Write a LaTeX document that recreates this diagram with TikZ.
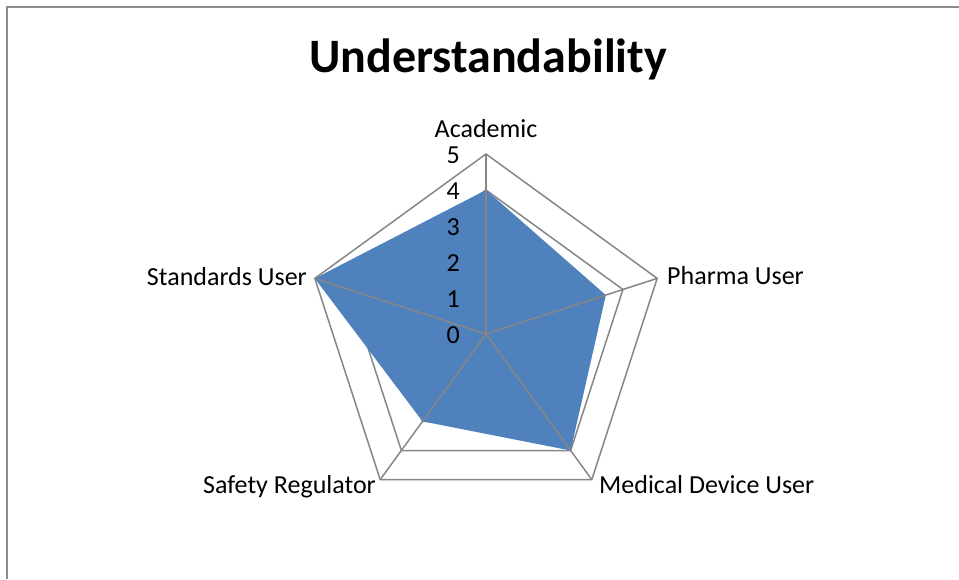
\documentclass[tikz,border=0pt]{standalone}
\usepackage{fontspec}
\setmainfont{Carlito}
\definecolor{gridgray}{HTML}{868686}
\definecolor{framegray}{HTML}{8C8C8C}
\definecolor{fillblue}{HTML}{4F81BD}
\begin{document}
\begin{tikzpicture}[x=1pt,y=-1pt,
  gridline/.style={draw=gridgray,line width=1.5pt,line join=miter},
  lbl/.style={font=\fontsize{26}{30}\selectfont,inner sep=0pt},
  tick/.style={font=\fontsize{26}{30}\selectfont,inner sep=0pt,anchor=base east}]
\useasboundingbox (0,0) rectangle (959,579);
\draw[draw=framegray,line width=2pt] (6.5,579) -- (6.5,6.5) -- (959,6.5);
\node[font=\bfseries\fontsize{48}{56}\selectfont,inner sep=0pt,anchor=base] (title) at (488,72) {Understandability};
\begin{scope}[shift={(486,334)}]
  \coordinate (O) at (0,0);
  % grid rings
  \foreach \k in {1,...,5}{
    \draw[gridline] (-90:{\k*36}) -- (-18:{\k*36}) -- (54:{\k*36}) -- (126:{\k*36}) -- (198:{\k*36}) -- cycle;
  }
  % data
  \coordinate (dA) at (-90:144);
  \coordinate (dP) at (-18:126);
  \coordinate (dM) at (54:144);
  \coordinate (dS) at (126:108);
  \coordinate (dT) at (198:180);
  \fill[fillblue] (dA) -- (dP) -- (dM) -- (dS) -- (dT) -- cycle;
  % spokes
  \coordinate (eA) at (-90:180);
  \coordinate (eP) at (-18:180);
  \coordinate (eM) at (54:180);
  \coordinate (eS) at (126:180);
  \coordinate (eT) at (198:180);
  \foreach \e in {eA,eP,eM,eS,eT}{\draw[gridline] (O) -- (\e);}
\end{scope}
% tick labels
\foreach \v in {0,...,5}{
  \node[tick] (t\v) at (460,{343-36*\v}) {\v};
}
% axis labels
\node[lbl,anchor=base] (lA) at (486,137) {Academic};
\node[lbl,anchor=base west] (lP) at (667,284) {Pharma User};
\node[lbl,anchor=base west] (lM) at (599,493) {Medical Device User};
\node[lbl,anchor=base east] (lS) at (376,493) {Safety Regulator};
\node[lbl,anchor=base east] (lT) at (307,285) {Standards User};
\end{tikzpicture}
\end{document}
